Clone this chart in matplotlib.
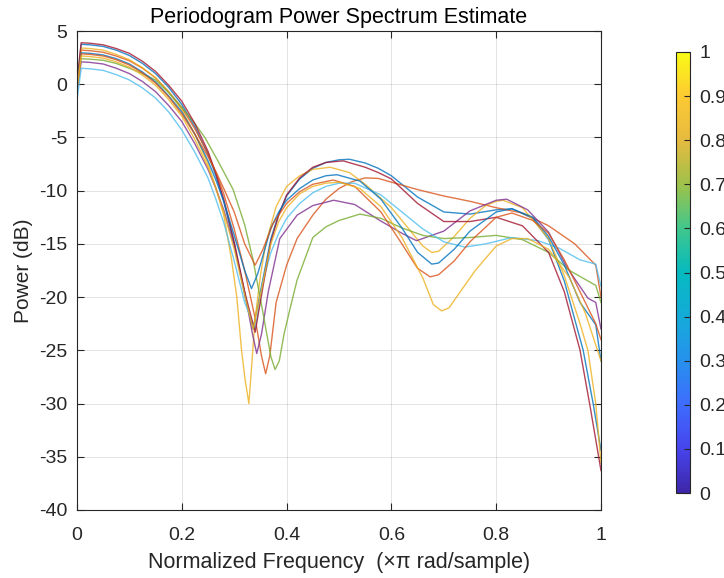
import numpy as np
import matplotlib
matplotlib.use('Agg')
import matplotlib.pyplot as plt
from matplotlib.colors import LinearSegmentedColormap, Normalize
from matplotlib.cm import ScalarMappable

plt.rcParams['font.family'] = ['Liberation Sans', 'DejaVu Sans']
plt.rcParams['axes.unicode_minus'] = False

# ten periodogram estimates
# freq in (x pi rad/sample), power in dB
f1 = [0, 0.008, 0.025, 0.05, 0.075, 0.1, 0.125, 0.15, 0.175, 0.2, 0.225, 0.25, 0.265, 0.28, 0.3, 0.32, 0.336, 0.35, 0.37, 0.385, 0.4, 0.425, 0.45, 0.475, 0.5, 0.52, 0.55, 0.575, 0.6, 0.65, 0.7, 0.75, 0.8, 0.83, 0.87, 0.9, 0.93, 0.966, 0.985, 1.0]
p1 = [-0.3, 3.75, 3.7, 3.55, 3.2, 2.7, 1.95, 1.0, -0.3, -1.9, -4.0, -6.6, -8.6, -11.0, -15.0, -19.8, -23.0, -19.5, -14.5, -12.2, -10.5, -8.9, -7.9, -7.35, -7.1, -7.05, -7.4, -7.9, -8.6, -10.6, -12.0, -12.2, -11.8, -11.7, -12.6, -14.6, -18.5, -25.0, -30.0, -34.4]

f2 = [0, 0.008, 0.025, 0.05, 0.075, 0.1, 0.125, 0.15, 0.175, 0.2, 0.225, 0.25, 0.265, 0.28, 0.3, 0.32, 0.34, 0.352, 0.36, 0.368, 0.38, 0.4, 0.42, 0.45, 0.475, 0.5, 0.525, 0.55, 0.575, 0.6, 0.65, 0.7, 0.75, 0.8, 0.85, 0.9, 0.95, 0.99, 1.0]
p2 = [-0.5, 3.2, 3.15, 3.0, 2.65, 2.2, 1.5, 0.6, -0.7, -2.2, -4.2, -6.5, -8.3, -10.3, -13.6, -17.5, -22.0, -25.5, -27.2, -25.5, -20.5, -17.0, -14.5, -12.3, -10.8, -9.8, -9.15, -8.8, -8.85, -9.2, -9.9, -10.5, -11.0, -11.6, -12.1, -13.3, -15.0, -17.0, -20.0]

f3 = [0, 0.008, 0.025, 0.05, 0.075, 0.1, 0.125, 0.15, 0.175, 0.2, 0.225, 0.25, 0.265, 0.28, 0.295, 0.305, 0.314, 0.321, 0.328, 0.334, 0.34, 0.35, 0.36, 0.38, 0.4, 0.425, 0.45, 0.483, 0.52, 0.55, 0.6, 0.63, 0.66, 0.677, 0.69, 0.72, 0.75, 0.78, 0.8, 0.813, 0.85, 0.9, 0.93, 0.96, 0.975, 0.99, 1.0]
p3 = [0.0, 3.4, 3.35, 3.2, 2.8, 2.3, 1.55, 0.6, -0.75, -2.4, -4.7, -7.5, -9.7, -12.3, -16.5, -20.0, -25.0, -27.8, -30.0, -26.0, -22.0, -18.0, -15.0, -11.5, -9.6, -8.6, -8.0, -7.8, -8.3, -9.4, -11.6, -13.4, -15.2, -15.8, -15.7, -14.3, -12.6, -11.4, -11.0, -10.9, -11.6, -14.5, -18.0, -22.5, -25.0, -30.0, -35.6]

f4 = [0, 0.008, 0.025, 0.05, 0.075, 0.1, 0.125, 0.15, 0.175, 0.2, 0.225, 0.25, 0.265, 0.28, 0.3, 0.32, 0.335, 0.343, 0.352, 0.365, 0.387, 0.42, 0.45, 0.49, 0.53, 0.578, 0.62, 0.648, 0.7, 0.75, 0.8, 0.82, 0.86, 0.9, 0.935, 0.975, 0.99, 1.0]
p4 = [-0.8, 2.1, 2.05, 1.9, 1.5, 1.0, 0.25, -0.7, -2.0, -3.5, -5.6, -8.0, -9.8, -11.8, -15.2, -19.5, -23.5, -25.3, -23.5, -19.5, -14.5, -12.3, -11.4, -10.9, -11.3, -12.8, -14.0, -14.7, -13.8, -11.9, -10.9, -10.8, -11.8, -13.9, -17.2, -20.1, -20.5, -23.0]

f5 = [0, 0.008, 0.025, 0.05, 0.075, 0.1, 0.125, 0.15, 0.175, 0.2, 0.222, 0.244, 0.27, 0.298, 0.32, 0.336, 0.355, 0.37, 0.378, 0.386, 0.395, 0.406, 0.42, 0.45, 0.475, 0.5, 0.54, 0.58, 0.62, 0.66, 0.7, 0.75, 0.8, 0.85, 0.9, 0.94, 0.99, 1.0]
p5 = [-0.3, 2.4, 2.35, 2.25, 1.95, 1.5, 1.0, 0.4, -0.8, -2.2, -3.5, -5.0, -7.3, -9.9, -13.2, -16.5, -21.5, -25.6, -26.8, -26.0, -23.5, -21.2, -18.4, -14.4, -13.4, -12.8, -12.2, -12.6, -13.5, -14.2, -14.5, -14.4, -14.2, -14.6, -15.8, -17.5, -18.9, -20.5]

f6 = [0, 0.008, 0.025, 0.05, 0.075, 0.1, 0.125, 0.15, 0.175, 0.2, 0.225, 0.25, 0.265, 0.28, 0.3, 0.32, 0.34, 0.355, 0.37, 0.385, 0.4, 0.425, 0.45, 0.475, 0.5, 0.53, 0.58, 0.62, 0.66, 0.7, 0.74, 0.78, 0.83, 0.88, 0.92, 0.96, 0.99, 1.0]
p6 = [-1.5, 1.5, 1.45, 1.3, 0.9, 0.4, -0.35, -1.3, -2.6, -4.3, -6.4, -8.8, -10.8, -13.0, -16.6, -20.5, -23.0, -18.5, -15.8, -14.0, -12.6, -11.2, -10.2, -9.6, -9.3, -9.3, -10.4, -12.0, -13.6, -14.8, -15.3, -15.0, -14.4, -14.7, -15.4, -16.5, -16.9, -19.0]

f7 = [0, 0.008, 0.025, 0.05, 0.075, 0.1, 0.125, 0.15, 0.175, 0.2, 0.225, 0.25, 0.265, 0.28, 0.3, 0.32, 0.34, 0.355, 0.37, 0.385, 0.4, 0.425, 0.45, 0.475, 0.508, 0.55, 0.575, 0.6, 0.65, 0.7, 0.75, 0.8, 0.85, 0.9, 0.93, 0.96, 0.98, 1.0]
p7 = [0.3, 3.9, 3.85, 3.7, 3.35, 2.9, 2.15, 1.2, -0.1, -1.6, -3.7, -6.3, -8.4, -10.8, -14.8, -19.5, -23.3, -19.0, -14.8, -12.3, -10.4, -8.8, -7.8, -7.35, -7.2, -7.8, -8.3, -8.9, -11.2, -12.9, -12.9, -12.5, -13.3, -15.8, -19.5, -25.0, -30.5, -36.3]

f8 = [0, 0.008, 0.025, 0.05, 0.075, 0.1, 0.125, 0.15, 0.175, 0.2, 0.225, 0.25, 0.265, 0.28, 0.3, 0.32, 0.333, 0.345, 0.37, 0.385, 0.4, 0.425, 0.45, 0.475, 0.496, 0.54, 0.58, 0.62, 0.65, 0.677, 0.69, 0.72, 0.75, 0.8, 0.83, 0.87, 0.9, 0.93, 0.96, 0.99, 1.0]
p8 = [0.2, 2.95, 2.9, 2.75, 2.4, 1.9, 1.15, 0.2, -1.1, -2.6, -4.7, -7.2, -9.0, -11.0, -14.2, -17.5, -19.2, -17.8, -13.5, -12.0, -10.9, -9.8, -9.0, -8.6, -8.5, -9.1, -10.8, -13.5, -15.8, -16.9, -16.8, -15.5, -13.8, -12.0, -11.7, -12.5, -14.3, -17.0, -20.5, -22.6, -26.0]

f9 = [0, 0.008, 0.025, 0.05, 0.075, 0.1, 0.125, 0.15, 0.175, 0.2, 0.225, 0.25, 0.265, 0.28, 0.3, 0.32, 0.34, 0.355, 0.374, 0.4, 0.425, 0.45, 0.489, 0.53, 0.58, 0.62, 0.65, 0.674, 0.69, 0.72, 0.75, 0.8, 0.83, 0.87, 0.9, 0.93, 0.96, 0.99, 1.0]
p9 = [-0.2, 2.85, 2.8, 2.65, 2.3, 1.8, 1.05, 0.1, -1.2, -2.8, -4.7, -6.8, -8.2, -9.8, -12.0, -15.0, -17.0, -15.5, -13.1, -11.2, -10.1, -9.4, -9.0, -9.6, -12.0, -15.0, -17.3, -18.1, -17.9, -16.6, -14.8, -12.5, -12.1, -12.8, -14.0, -16.5, -19.5, -22.5, -24.0]

f10 = [0, 0.008, 0.025, 0.05, 0.075, 0.1, 0.125, 0.15, 0.175, 0.2, 0.225, 0.25, 0.265, 0.28, 0.3, 0.32, 0.336, 0.35, 0.37, 0.385, 0.4, 0.425, 0.45, 0.475, 0.5, 0.54, 0.58, 0.62, 0.66, 0.68, 0.696, 0.71, 0.73, 0.76, 0.8, 0.83, 0.86, 0.9, 0.94, 0.97, 0.99, 1.0]
p10 = [-0.5, 2.65, 2.6, 2.45, 2.1, 1.6, 0.85, -0.1, -1.45, -3.0, -5.2, -7.8, -9.8, -12.0, -15.5, -19.8, -23.0, -19.8, -15.0, -12.9, -11.6, -10.3, -9.6, -9.3, -9.2, -9.8, -11.5, -14.4, -18.2, -20.7, -21.3, -21.0, -19.6, -17.5, -15.2, -14.5, -14.5, -15.5, -18.2, -21.5, -24.5, -26.0]

freqs = [f1, f2, f3, f4, f5, f6, f7, f8, f9, f10]
powers = [p1, p2, p3, p4, p5, p6, p7, p8, p9, p10]

# matlab default line order
line_colors = ['#0072BD', '#D95319', '#EDB120', '#7E2F8E', '#77AC30',
               '#4DBEEE', '#A2142F', '#0072BD', '#D95319', '#EDB120']

xticks = [0, 0.2, 0.4, 0.6, 0.8, 1]
xticklabels = ['0', '0.2', '0.4', '0.6', '0.8', '1']
yticks = list(range(-40, 6, 5))
cbar_ticks = [0, 0.1, 0.2, 0.3, 0.4, 0.5, 0.6, 0.7, 0.8, 0.9, 1]
cbar_labels = ['0', '0.1', '0.2', '0.3', '0.4', '0.5', '0.6', '0.7', '0.8', '0.9', '1']

# rough parula
parula = LinearSegmentedColormap.from_list('parula', [
    (0.00, (0.242, 0.150, 0.660)),
    (0.10, (0.278, 0.270, 0.930)),
    (0.20, (0.245, 0.425, 0.995)),
    (0.30, (0.150, 0.570, 0.930)),
    (0.40, (0.080, 0.670, 0.850)),
    (0.50, (0.020, 0.730, 0.750)),
    (0.60, (0.250, 0.780, 0.550)),
    (0.70, (0.620, 0.760, 0.290)),
    (0.80, (0.900, 0.730, 0.250)),
    (0.90, (0.990, 0.790, 0.200)),
    (1.00, (0.977, 0.984, 0.080)),
])

edge = '#262626'
fig = plt.figure(figsize=(7.24, 5.78), dpi=100)
ax = fig.add_axes([77/724, 1 - 510/578, 524/724, 479/578])

for f, p, c in zip(freqs, powers, line_colors):
    ax.plot(f, p, color=c, lw=1.0, alpha=0.8)

ax.set_xlim(0, 1)
ax.set_ylim(-40, 5)
ax.set_xticks(xticks)
ax.set_xticklabels(xticklabels)
ax.set_yticks(yticks)
ax.grid(True, color='#262626', alpha=0.15, lw=0.6)
ax.tick_params(direction='in', top=True, right=True, length=5, width=0.8,
               colors=edge, labelsize=14, pad=7)
ax.tick_params(axis='x', pad=12)
for s in ax.spines.values():
    s.set_color(edge)
    s.set_linewidth(0.8)

ax.set_xlabel('Normalized Frequency  (\u00d7\u03c0 rad/sample)', fontsize=15.5,
              color=edge, labelpad=6)
ax.set_ylabel('Power (dB)', fontsize=15, color=edge)
ax.set_title('Periodogram Power Spectrum Estimate', fontsize=15.5, color='black', pad=6)

# colorbar labels run past the right edge, as in the original
cax = fig.add_axes([676/724, 1 - 493/578, 14/724, 441/578])
sm = ScalarMappable(norm=Normalize(0, 1), cmap=parula)
cb = fig.colorbar(sm, cax=cax, ticks=cbar_ticks)
cb.ax.set_yticklabels(cbar_labels)
cb.ax.tick_params(direction='in', length=4, width=0.8, colors=edge, labelsize=14, pad=7)
cb.outline.set_edgecolor(edge)
cb.outline.set_linewidth(0.8)

plt.savefig('out.png', dpi=100)
